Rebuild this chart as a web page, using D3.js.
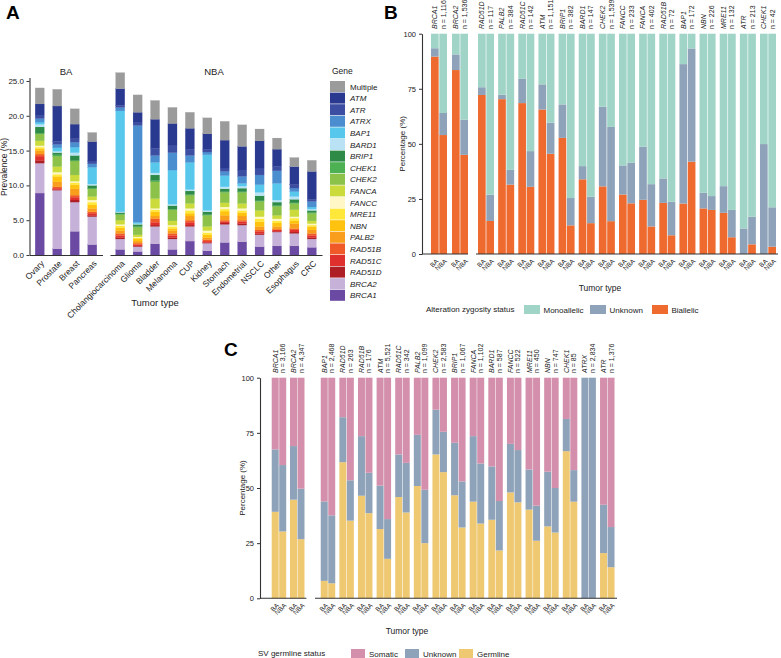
<!DOCTYPE html>
<html><head><meta charset="utf-8">
<script src="https://cdn.jsdelivr.net/npm/d3@7"></script>
<style>body{margin:0;background:#fff}svg{font-family:"Liberation Sans",Arial,Helvetica,sans-serif}</style>
</head><body><svg id="c" width="781" height="658"></svg>
<script>
// ---------------- Panel A data ----------------
const tumorsBA = ["Ovary","Prostate","Breast","Pancreas"];
const tumorsNBA = ["Cholangiocarcinoma","Glioma","Bladder","Melanoma","CUP","Kidney","Stomach","Endometrial","NSCLC","Other","Esophagus","CRC"];
const genesA = ["BRCA1","BRCA2","RAD51D","RAD51C","RAD51B","PALB2","NBN","MRE11","FANCC","FANCA","CHEK2","CHEK1","BRIP1","BARD1","BAP1","ATRX","ATR","ATM","Multiple"];
const prevBRCA1  = [8.9,0.9,3.4,1.5, 0.8,0.5,1.6,0.8,2.0,0.6,1.8,1.9,1.2,1.3,1.3,1.1];
const prevBRCA2  = [4.3,8.4,4.2,4.0, 1.5,0.7,2.5,1.5,2.1,1.1,2.6,2.4,1.7,2.0,1.8,1.2];
const prevRAD51D = [0.4,0.1,0.3,0.2, 0.2,0.1,0.2,0.2,0.2,0.1,0.2,0.2,0.2,0.1,0.2,0.2];
const prevRAD51C = [0.6,0.2,0.4,0.3, 0.3,0.2,0.4,0.3,0.4,0.2,0.2,0.3,0.3,0.2,0.3,0.3];
const prevRAD51B = [0.3,0.2,0.3,0.2, 0.3,0.2,0.5,0.3,0.3,0.2,0.2,0.2,0.2,0.1,0.2,0.3];
const prevPALB2  = [0.5,0.7,0.9,0.5, 0.4,0.3,0.4,0.4,0.6,0.3,0.7,0.6,0.5,0.4,0.7,0.5];
const prevNBN    = [0.3,0.8,0.6,0.5, 0.4,0.3,0.6,0.3,0.4,0.4,0.6,0.5,0.7,0.5,0.4,0.5];
const prevMRE11  = [0.2,0.3,0.3,0.4, 0.3,0.2,0.3,0.3,0.4,0.3,0.3,0.3,0.4,0.3,0.4,0.2];
const prevFANCC  = [0.2,0.3,0.2,0.3, 0.2,0.1,0.2,0.2,0.3,0.3,0.3,0.3,0.3,0.3,0.2,0.2];
const prevFANCA  = [0.7,0.8,0.9,0.5, 0.6,0.3,1.4,0.6,0.7,0.6,0.6,0.7,0.9,0.5,1.0,0.4];
const prevCHEK2  = [1.0,1.5,2.0,1.1, 0.8,1.1,2.4,1.6,1.2,1.6,1.5,1.6,1.3,1.3,0.9,1.1];
const prevCHEK1  = [0.1,0.2,0.1,0.1, 0.1,0.1,0.2,0.1,0.1,0.1,0.1,0.1,0.1,0.1,0.1,0.1];
const prevBRIP1  = [0.9,0.3,0.7,0.4, 0.2,0.3,0.8,0.5,0.5,0.4,0.4,0.5,0.7,0.5,0.5,0.3];
const prevBARD1  = [0.4,0.2,0.4,0.2, 0.1,0.1,0.3,0.2,0.2,0.2,0.3,0.3,0.5,0.3,0.4,0.2];
const prevBAP1   = [0.3,0.5,0.8,2.4, 14.5,0.2,1.5,4.9,3.9,8.0,1.6,0.4,1.1,2.4,0.7,0.3];
const prevATRX   = [0.5,0.5,0.7,0.5, 0.5,13.9,1.0,2.5,1.0,0.4,0.6,1.0,1.4,1.8,0.5,0.8];
const prevATR    = [0.5,0.4,0.5,0.4, 0.3,0.5,1.0,1.1,0.9,0.4,0.5,0.9,1.0,0.6,0.5,0.3];
const prevATM    = [1.6,5.1,2.1,2.8, 2.4,1.4,4.2,3.1,3.0,2.2,4.0,3.4,3.9,2.5,2.6,4.0];
const prevMultiple=[2.3,2.4,2.2,1.3, 2.3,2.5,2.7,2.3,2.3,2.3,2.7,3.1,1.7,1.6,1.3,1.6];
const ticksA = [0,5,10,15,20,25];

// ---------------- Panel B data ----------------
const genesB1 = ["BRCA1","BRCA2"];
const genesB2 = ["RAD51D","PALB2","RAD51C","ATM","BRIP1","BARD1","CHEK2","FANCC","FANCA","RAD51B","BAP1","NBN","MRE11","ATR","CHEK1"];
const nB = ["1,116","1,536","117","384","142","1,151","382","147","1,539","233","402","72","172","226","132","213","42"];
const biallelicBA  = [89.6,83.5, 72.2,70.3,68.5,65.6,52.7,33.9,30.7,27.0,24.6,23.2,22.9,20.7,18.7,0,0];
const unknownBA_B  = [3.8,7.1, 3.5,2.0,11.0,11.4,15.2,6.0,36.2,13.2,24.1,11.1,63.3,7.1,12.1,11.6,49.9];
const monoBA       = [6.6,9.4, 24.3,27.7,20.5,23.0,32.1,60.1,33.1,59.8,51.3,65.7,13.8,72.2,69.2,88.4,50.1];
const biallelicNBA = [54.0,45.0, 15.0,31.5,30.5,45.5,13.0,14.0,14.9,23.0,12.5,8.5,41.9,20.0,7.6,4.4,3.3];
const unknownNBA_B = [10.0,16.0, 11.9,6.7,16.2,14.1,12.4,12.0,42.8,18.4,19.2,15.2,51.4,6.3,12.4,12.5,17.9];
const monoNBA      = [36.0,39.0, 73.1,61.8,53.3,40.4,74.6,74.0,42.3,58.6,68.3,76.3,6.7,73.7,80.0,83.1,78.8];
const ticksPct = [0,25,50,75,100];

// ---------------- Panel C data ----------------
const genesC1 = ["BRCA1","BRCA2"];
const genesC2 = ["BAP1","RAD51D","RAD51B","ATM","RAD51C","PALB2","CHEK2","BRIP1","FANCA","BARD1","FANCC","MRE11","NBN","CHEK1","ATRX","ATR"];
const nC = ["3,166","4,347","2,468","263","176","5,521","342","1,099","2,583","1,067","1,102","587","522","450","747","85","2,834","1,376"];
const germBA   = [39.2,44.7, 7.9,61.7,46.5,31.4,45.9,50.9,65.2,46.7,43.8,35.6,48.0,40.2,32.6,66.7,0,20.5];
const unkBA_C  = [28.3,24.3, 36.0,20.4,27.0,19.7,19.3,23.2,20.3,23.8,29.7,24.2,22.0,18.2,24.8,14.6,100,21.9];
const somBA    = [32.5,31.0, 56.1,17.9,26.5,48.9,34.8,25.9,14.5,29.5,26.5,40.2,30.0,41.6,42.6,18.7,0,57.6];
const germNBA  = [30.3,26.8, 6.8,35.2,38.6,17.9,38.9,25.0,57.2,32.1,33.9,21.7,43.5,26.1,29.8,43.8,0,14.1];
const unkNBA_C = [30.1,22.9, 30.8,18.3,18.3,18.0,22.5,24.2,18.3,20.9,27.2,22.4,23.7,15.9,20.2,14.3,100,18.2];
const somNBA   = [39.6,50.3, 62.4,46.5,43.1,64.1,38.6,50.8,24.5,47.0,38.9,55.9,32.8,58.0,50.0,41.9,0,67.7];

// ---------------- styles ----------------
const geneColor = {Multiple:"#9b9b9b",ATM:"#2a3990",ATR:"#3c4ea2",ATRX:"#4a8ed0",BAP1:"#58c7ec",BARD1:"#b9e3f5",
  BRIP1:"#2e8b47",CHEK1:"#4db052",CHEK2:"#8dc24a",FANCA:"#cbdb3c",FANCC:"#fff8c6",MRE11:"#ffe83a",NBN:"#ffc20e",
  PALB2:"#f99d1c",RAD51B:"#f05a28",RAD51C:"#e0302e",RAD51D:"#ad1f24",BRCA2:"#c6b1d9",BRCA1:"#6b4aa3"};
const FONT = "'Liberation Sans', Arial, Helvetica, sans-serif";
const svg = d3.select("#c");

function styleAxis(sel, fs){
  sel.selectAll("path.domain").attr("stroke","#333").attr("stroke-width",1.1);
  sel.selectAll(".tick line").attr("stroke","#333");
  sel.selectAll(".tick text").attr("fill","#222").style("font-size",fs+"px").style("font-family",FONT);
}
function txt(g, x, y, s, fs, opts={}){
  const t = g.append("text").attr("x",x).attr("y",y).text(s).style("font-size",fs+"px").attr("fill",opts.fill||"#222");
  if(opts.anchor) t.attr("text-anchor",opts.anchor);
  if(opts.weight) t.style("font-weight",opts.weight);
  if(opts.italic) t.style("font-style","italic");
  if(opts.transform) t.attr("transform",opts.transform);
  return t;
}

// ================= Panel A =================
(function(){
  const g = svg.append("g");
  const prev = {BRCA1:prevBRCA1,BRCA2:prevBRCA2,RAD51D:prevRAD51D,RAD51C:prevRAD51C,RAD51B:prevRAD51B,PALB2:prevPALB2,
    NBN:prevNBN,MRE11:prevMRE11,FANCC:prevFANCC,FANCA:prevFANCA,CHEK2:prevCHEK2,CHEK1:prevCHEK1,BRIP1:prevBRIP1,
    BARD1:prevBARD1,BAP1:prevBAP1,ATRX:prevATRX,ATR:prevATR,ATM:prevATM,Multiple:prevMultiple};
  const tumors = tumorsBA.concat(tumorsNBA);
  const table = tumors.map((t,i)=>{const r={tumor:t}; genesA.forEach(k=>r[k]=prev[k][i]); return r;});
  const series = d3.stack().keys(genesA)(table);
  const y = d3.scaleLinear().domain([0,25.5]).range([255,77.5]);
  const x1 = d3.scaleBand().domain(tumorsBA).range([29.5,102.5]).paddingInner(0.48).paddingOuter(0.326);
  const x2 = d3.scaleBand().domain(tumorsNBA).range([110,322]).paddingInner(0.48).paddingOuter(0.325);
  const xf = t => tumorsBA.includes(t) ? x1(t) : x2(t);
  g.selectAll("g.layer").data(series).join("g").attr("class","layer")
    .attr("fill",d=>geneColor[d.key]).attr("stroke",d=>geneColor[d.key]).attr("stroke-width",0.2)
    .selectAll("rect").data(d=>d).join("rect")
    .attr("x",d=>xf(d.data.tumor)).attr("width",x1.bandwidth())
    .attr("y",d=>y(d[1])).attr("height",d=>Math.max(0,y(d[0])-y(d[1])));
  const ya = g.append("g").attr("transform","translate(29.5,0)")
    .call(d3.axisLeft(y).tickValues(ticksA).tickFormat(d3.format(".1f")).tickSize(3).tickSizeOuter(0).tickPadding(2.5));
  styleAxis(ya, 8);
  [x1,x2].forEach(xs=>{
    const xa = g.append("g").attr("transform","translate(0,255)").call(d3.axisBottom(xs).tickSize(0).tickSizeOuter(0));
    styleAxis(xa, 8.5);
    xa.selectAll(".tick text").attr("x",0).attr("y",0).attr("dy","0.35em").attr("text-anchor","end")
      .attr("transform","translate(3,7) rotate(-45)");
  });
  txt(g, 7, 167, "Prevalence (%)", 8.5, {anchor:"middle", transform:"rotate(-90,7,167)"});
  txt(g, 66, 75, "BA", 9.5, {anchor:"middle"});
  txt(g, 214, 75, "NBA", 9.5, {anchor:"middle"});
  txt(g, 155, 306, "Tumor type", 9.5, {anchor:"middle"});
  txt(g, 6, 19, "A", 19, {weight:"bold", fill:"#000"});
  // legend
  txt(g, 332, 74, "Gene", 8.5);
  const order = genesA.slice().reverse();
  const lg = g.append("g").selectAll("g").data(order).join("g")
    .attr("transform",(d,i)=>`translate(330,${81+i*11.6})`);
  lg.append("rect").attr("width",15).attr("height",11).attr("fill",d=>geneColor[d]);
  lg.append("text").attr("x",20).attr("y",8.5).text(d=>d).style("font-size","8px").attr("fill","#222")
    .style("font-style",d=>d==="Multiple"?"normal":"italic");
})();

// ================= paired panels (B, C) =================
function drawPaired(cfg){
  const g = svg.append("g");
  const genes = cfg.genes1.concat(cfg.genes2);
  const xg = k => cfg.genes1.includes(k) ? cfg.x1(k) : cfg.x2(k);
  const sub = d3.scaleBand().domain(["BA","NBA"]).range([0,cfg.x1.bandwidth()]).paddingInner(cfg.subPad);
  const rows = [];
  genes.forEach((gene,i)=>["BA","NBA"].forEach(s=>{
    const src = s==="BA"?cfg.ba:cfg.nba; const r={gene:gene,status:s};
    cfg.keys.forEach(k=>r[k]=src[k][i]); rows.push(r);
  }));
  const series = d3.stack().keys(cfg.keys)(rows);
  const y = cfg.y;
  g.selectAll("g.layer").data(series).join("g").attr("fill",d=>cfg.colors[d.key])
    .selectAll("rect").data(d=>d).join("rect")
    .attr("x",d=>xg(d.data.gene)+sub(d.data.status)).attr("width",sub.bandwidth())
    .attr("y",d=>y(d[1])).attr("height",d=>Math.max(0,y(d[0])-y(d[1])));
  const ya = g.append("g").attr("transform",`translate(${cfg.yAxisX},0)`)
    .call(d3.axisLeft(y).tickValues(ticksPct).tickSize(3).tickSizeOuter(0));
  styleAxis(ya, 7.5);
  const base = y(0);
  g.append("line").attr("x1",cfg.yAxisX).attr("x2",cfg.x1.range()[1]).attr("y1",base).attr("y2",base).attr("stroke","#333").attr("stroke-width",1.1);
  g.append("line").attr("x1",cfg.x2.range()[0]).attr("x2",cfg.x2.range()[1]).attr("y1",base).attr("y2",base).attr("stroke","#333").attr("stroke-width",1.1);
  genes.forEach((gene,i)=>{
    ["BA","NBA"].forEach(s=>{
      const cx = xg(gene)+sub(s)+sub.bandwidth()/2;
      txt(g, 0, 0, s, 6.5, {anchor:"end", transform:`translate(${cx+2.5},${base+6}) rotate(-45)`}).attr("dy","0.35em");
    });
    const cBA = xg(gene)+sub("BA")+sub.bandwidth()/2;
    const cNBA = xg(gene)+sub("NBA")+sub.bandwidth()/2;
    txt(g, 0, 0, gene, 7, {italic:true, transform:`translate(${cBA+2.5},${cfg.labelTop}) rotate(-90)`});
    txt(g, 0, 0, "n = "+cfg.n[i], 7, {transform:`translate(${cNBA+2.5},${cfg.labelTop}) rotate(-90)`});
  });
  const mid = (y(0)+y(100))/2;
  txt(g, cfg.yLabelX, mid, "Percentage (%)", 8, {anchor:"middle", transform:`rotate(-90,${cfg.yLabelX},${mid})`});
  return g;
}

// ---------- Panel B ----------
(function(){
  const y = d3.scaleLinear().domain([0,100]).range([254,33.7]);
  const x1 = d3.scaleBand().domain(genesB1).range([422,468]).paddingInner(0.238).paddingOuter(0.214).align(1);
  const x2 = d3.scaleBand().domain(genesB2).range([476,778]).paddingInner(0.206).paddingOuter(0.1).align(0.5);
  const colors = {Biallelic:"#ee6a2f", Unknown:"#8ea3b9", Monoallelic:"#9fd4c6"};
  const g = drawPaired({genes1:genesB1, genes2:genesB2, x1, x2, y, subPad:0.08,
    keys:["Biallelic","Unknown","Monoallelic"], colors,
    ba:{Biallelic:biallelicBA, Unknown:unknownBA_B, Monoallelic:monoBA},
    nba:{Biallelic:biallelicNBA, Unknown:unknownNBA_B, Monoallelic:monoNBA},
    n:nB, yAxisX:422, labelTop:29, yLabelX:405});
  txt(g, 600, 291, "Tumor type", 8.5, {anchor:"middle"});
  txt(g, 384, 19, "B", 19, {weight:"bold", fill:"#000"});
  txt(g, 426, 312, "Alteration zygosity status", 8);
  const items = [["Monoallelic",524],["Unknown",590],["Biallelic",652]];
  items.forEach(([k,xp])=>{
    g.append("rect").attr("x",xp).attr("y",305).attr("width",16).attr("height",9).attr("fill",colors[k]);
    txt(g, xp+19.5, 312.5, k, 8);
  });
})();

// ---------- Panel C ----------
(function(){
  const y = d3.scaleLinear().domain([0,100]).range([598.3,377.7]);
  const x1 = d3.scaleBand().domain(genesC1).range([260,306.4]).paddingInner(0.208).paddingOuter(0.372).align(0.86);
  const x2 = d3.scaleBand().domain(genesC2).range([315,617]).paddingInner(0.221).paddingOuter(0.22).align(0.7);
  const colors = {Germline:"#efc872", Unknown:"#8ea3b9", Somatic:"#d38fab"};
  const g = drawPaired({genes1:genesC1, genes2:genesC2, x1, x2, y, subPad:0.07,
    keys:["Germline","Unknown","Somatic"], colors,
    ba:{Germline:germBA, Unknown:unkBA_C, Somatic:somBA},
    nba:{Germline:germNBA, Unknown:unkNBA_C, Somatic:somNBA},
    n:nC, yAxisX:260, labelTop:373, yLabelX:245});
  txt(g, 407, 634, "Tumor type", 8.5, {anchor:"middle"});
  txt(g, 224, 356, "C", 19, {weight:"bold", fill:"#000"});
  txt(g, 258, 656, "SV germline status", 8);
  const items = [["Somatic",351],["Unknown",405],["Germline",459]];
  items.forEach(([k,xp])=>{
    g.append("rect").attr("x",xp).attr("y",649).attr("width",14).attr("height",9).attr("fill",colors[k]);
    txt(g, xp+18, 656.5, k, 8);
  });
})();
</script></body></html>
